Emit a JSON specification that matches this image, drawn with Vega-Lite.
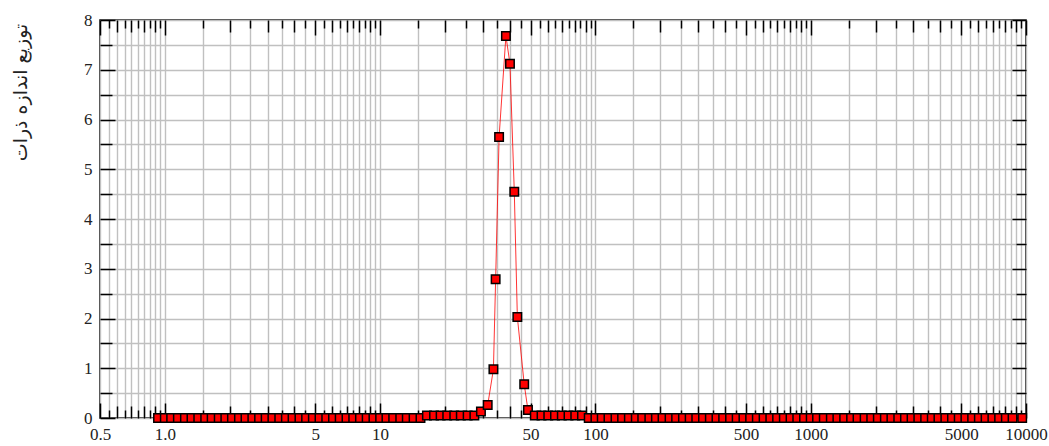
{
  "$schema": "https://vega.github.io/schema/vega-lite/v6.json",
  "width": 926,
  "height": 398,
  "autosize": {"type": "none"},
  "padding": {"left": 100, "top": 20, "right": 23, "bottom": 28},
  "background": "white",
  "config": {
    "view": {"stroke": "#000", "strokeWidth": 1.5},
    "axis": {
      "labelFont": "Liberation Serif",
      "labelFontSize": 17,
      "labelColor": "#222",
      "domain": false,
      "tickColor": "#000",
      "tickWidth": 1.5,
      "gridColor": "#c0c0c0",
      "gridWidth": 1.4,
      "labelOverlap": false,
      "labelFlush": false,
      "labelBound": false
    }
  },
  "data": {
    "values": [
      {"size": 0.93, "dist": 0}, {"size": 1.0, "dist": 0}, {"size": 1.07, "dist": 0}, {"size": 1.15, "dist": 0},
      {"size": 1.24, "dist": 0}, {"size": 1.33, "dist": 0}, {"size": 1.43, "dist": 0}, {"size": 1.54, "dist": 0},
      {"size": 1.65, "dist": 0}, {"size": 1.78, "dist": 0}, {"size": 1.91, "dist": 0}, {"size": 2.05, "dist": 0},
      {"size": 2.21, "dist": 0}, {"size": 2.37, "dist": 0}, {"size": 2.55, "dist": 0}, {"size": 2.74, "dist": 0},
      {"size": 2.94, "dist": 0}, {"size": 3.16, "dist": 0}, {"size": 3.40, "dist": 0}, {"size": 3.65, "dist": 0},
      {"size": 3.92, "dist": 0}, {"size": 4.22, "dist": 0}, {"size": 4.53, "dist": 0}, {"size": 4.87, "dist": 0},
      {"size": 5.23, "dist": 0}, {"size": 5.62, "dist": 0}, {"size": 6.04, "dist": 0}, {"size": 6.49, "dist": 0},
      {"size": 6.98, "dist": 0}, {"size": 7.50, "dist": 0}, {"size": 8.06, "dist": 0}, {"size": 8.66, "dist": 0},
      {"size": 9.31, "dist": 0}, {"size": 10.0, "dist": 0}, {"size": 10.7, "dist": 0}, {"size": 11.5, "dist": 0},
      {"size": 12.4, "dist": 0}, {"size": 13.3, "dist": 0}, {"size": 14.3, "dist": 0}, {"size": 15.4, "dist": 0},
      {"size": 16.5, "dist": 0.05}, {"size": 17.8, "dist": 0.05}, {"size": 19.1, "dist": 0.05}, {"size": 20.5, "dist": 0.05},
      {"size": 22.1, "dist": 0.05}, {"size": 23.7, "dist": 0.05}, {"size": 25.5, "dist": 0.05}, {"size": 27.4, "dist": 0.05},
      {"size": 29.4, "dist": 0.13}, {"size": 31.6, "dist": 0.26}, {"size": 33.6, "dist": 0.98}, {"size": 34.4, "dist": 2.79},
      {"size": 35.7, "dist": 5.65}, {"size": 38.4, "dist": 7.68}, {"size": 40.1, "dist": 7.12}, {"size": 42.0, "dist": 4.55},
      {"size": 43.4, "dist": 2.03}, {"size": 46.7, "dist": 0.68}, {"size": 48.6, "dist": 0.16},
      {"size": 52.3, "dist": 0.05}, {"size": 56.2, "dist": 0.05}, {"size": 60.4, "dist": 0.05}, {"size": 64.9, "dist": 0.05},
      {"size": 69.8, "dist": 0.05}, {"size": 75.0, "dist": 0.05}, {"size": 80.6, "dist": 0.05}, {"size": 86.6, "dist": 0.05},
      {"size": 93.1, "dist": 0},
      {"size": 100, "dist": 0}, {"size": 107, "dist": 0}, {"size": 115, "dist": 0}, {"size": 124, "dist": 0},
      {"size": 133, "dist": 0}, {"size": 143, "dist": 0}, {"size": 154, "dist": 0}, {"size": 165, "dist": 0},
      {"size": 178, "dist": 0}, {"size": 191, "dist": 0}, {"size": 205, "dist": 0}, {"size": 221, "dist": 0},
      {"size": 237, "dist": 0}, {"size": 255, "dist": 0}, {"size": 274, "dist": 0}, {"size": 294, "dist": 0},
      {"size": 316, "dist": 0}, {"size": 340, "dist": 0}, {"size": 365, "dist": 0}, {"size": 392, "dist": 0},
      {"size": 422, "dist": 0}, {"size": 453, "dist": 0}, {"size": 487, "dist": 0}, {"size": 523, "dist": 0},
      {"size": 562, "dist": 0}, {"size": 604, "dist": 0}, {"size": 649, "dist": 0}, {"size": 698, "dist": 0},
      {"size": 750, "dist": 0}, {"size": 806, "dist": 0}, {"size": 866, "dist": 0}, {"size": 931, "dist": 0},
      {"size": 1000, "dist": 0}, {"size": 1070, "dist": 0}, {"size": 1150, "dist": 0}, {"size": 1240, "dist": 0},
      {"size": 1330, "dist": 0}, {"size": 1430, "dist": 0}, {"size": 1540, "dist": 0}, {"size": 1650, "dist": 0},
      {"size": 1780, "dist": 0}, {"size": 1910, "dist": 0}, {"size": 2050, "dist": 0}, {"size": 2210, "dist": 0},
      {"size": 2370, "dist": 0}, {"size": 2550, "dist": 0}, {"size": 2740, "dist": 0}, {"size": 2940, "dist": 0},
      {"size": 3160, "dist": 0}, {"size": 3400, "dist": 0}, {"size": 3650, "dist": 0}, {"size": 3920, "dist": 0},
      {"size": 4220, "dist": 0}, {"size": 4530, "dist": 0}, {"size": 4870, "dist": 0}, {"size": 5230, "dist": 0},
      {"size": 5620, "dist": 0}, {"size": 6040, "dist": 0}, {"size": 6490, "dist": 0}, {"size": 6980, "dist": 0},
      {"size": 7500, "dist": 0}, {"size": 8060, "dist": 0}, {"size": 8660, "dist": 0}, {"size": 9600, "dist": 0}
    ]
  },
  "layer": [
    {
      "mark": {"type": "line", "color": "#ff0000", "strokeWidth": 0.8},
      "encoding": {
        "x": {
          "field": "size",
          "type": "quantitative",
          "scale": {"type": "log", "domain": [0.5, 10000], "nice": false},
          "axis": {
            "orient": "bottom",
            "title": null,
            "grid": true,
            "labelOverlap": false,
            "labelFlush": false,
            "labelBound": false,
            "values": [0.5,0.55,0.6,0.65,0.7,0.75,0.8,0.85,0.9,0.95,1,1.5,2,2.5,3,3.5,4,4.5,5,5.5,6,6.5,7,7.5,8,8.5,9,9.5,10,15,20,25,30,35,40,45,50,55,60,65,70,75,80,85,90,95,100,150,200,250,300,350,400,450,500,550,600,650,700,750,800,850,900,950,1000,1500,2000,2500,3000,3500,4000,4500,5000,5500,6000,6500,7000,7500,8000,8500,9000,9500,10000],
            "tickSize": {
              "condition": [
                {"test": "indexof([0.5,1,5,10,50,100,500,1000,5000,10000], datum.value) >= 0", "value": -15},
                {"test": "abs(datum.value / pow(10, floor(log(datum.value)/LN10 + 1e-9)) - round(datum.value / pow(10, floor(log(datum.value)/LN10 + 1e-9)))) < 0.01", "value": -12}
              ],
              "value": -8
            },
            "labelExpr": "indexof([0.5,1,5,10,50,100,500,1000,5000,10000], datum.value) >= 0 ? (datum.value == 1 ? '1.0' : '' + datum.value) : ''",
            "labelPadding": 23
          }
        },
        "y": {
          "field": "dist",
          "type": "quantitative",
          "scale": {"domain": [0, 8], "nice": false},
          "axis": {
            "orient": "left",
            "grid": true,
            "labelOverlap": false,
            "values": [0,0.5,1,1.5,2,2.5,3,3.5,4,4.5,5,5.5,6,6.5,7,7.5,8],
            "tickSize": {"condition": {"test": "datum.value % 1 == 0", "value": -15}, "value": -12},
            "labelExpr": "datum.value % 1 == 0 ? '' + datum.value : ''",
            "labelPadding": 23,
            "title": "توزیع اندازه ذرات",
            "titleFont": "DejaVu Sans",
            "titleFontSize": 19,
            "titleFontWeight": "normal",
            "titleColor": "#222",
            "titleAngle": -90,
            "titleX": -80,
            "titleY": 72,
            "titleAlign": "center",
            "titleBaseline": "middle"
          }
        }
      }
    },
    {
      "mark": {"type": "point", "shape": "square", "filled": true, "fill": "#ff0000", "stroke": "#000", "strokeWidth": 1.5, "size": 72, "opacity": 1},
      "encoding": {
        "x": {
          "field": "size",
          "type": "quantitative",
          "scale": {"type": "log", "domain": [0.5, 10000], "nice": false},
          "axis": {
            "orient": "top",
            "title": null,
            "grid": false,
            "labels": false,
            "values": [0.5,0.55,0.6,0.65,0.7,0.75,0.8,0.85,0.9,0.95,1,1.5,2,2.5,3,3.5,4,4.5,5,5.5,6,6.5,7,7.5,8,8.5,9,9.5,10,15,20,25,30,35,40,45,50,55,60,65,70,75,80,85,90,95,100,150,200,250,300,350,400,450,500,550,600,650,700,750,800,850,900,950,1000,1500,2000,2500,3000,3500,4000,4500,5000,5500,6000,6500,7000,7500,8000,8500,9000,9500,10000],
            "tickSize": {
              "condition": [
                {"test": "indexof([0.5,1,5,10,50,100,500,1000,5000,10000], datum.value) >= 0", "value": -15},
                {"test": "abs(datum.value / pow(10, floor(log(datum.value)/LN10 + 1e-9)) - round(datum.value / pow(10, floor(log(datum.value)/LN10 + 1e-9)))) < 0.01", "value": -12}
              ],
              "value": -8
            }
          }
        },
        "y": {
          "field": "dist",
          "type": "quantitative",
          "scale": {"domain": [0, 8], "nice": false},
          "axis": {
            "orient": "right",
            "title": null,
            "grid": false,
            "labels": false,
            "values": [0,0.5,1,1.5,2,2.5,3,3.5,4,4.5,5,5.5,6,6.5,7,7.5,8],
            "tickSize": {"condition": {"test": "datum.value % 1 == 0", "value": -14}, "value": -10}
          }
        }
      }
    }
  ],
  "resolve": {"axis": {"x": "independent", "y": "independent"}}
}
